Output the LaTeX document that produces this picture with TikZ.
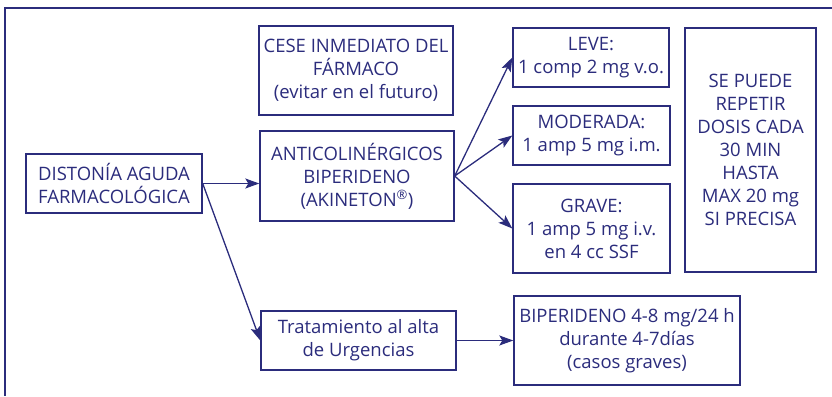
\documentclass[tikz,border=0pt]{standalone}
\usepackage{fontspec}
\setmainfont{Open Sans}
\usepackage{tikz}
\usetikzlibrary{arrows.meta}
\definecolor{navyink}{HTML}{2B2C7C}
\tikzset{box/.style={draw=navyink,line width=1.4pt,text=navyink,align=center,inner sep=0pt,
font=\fontsize{18.5}{23}\selectfont},
arr/.style={-{Stealth[length=14pt,width=10pt,inset=3pt]},navyink,line width=1.3pt}}

\begin{document}
\begin{tikzpicture}[x=1pt,y=-1pt]
\useasboundingbox (0,0) rectangle (832,396);
\draw[navyink,line width=2.5pt] (832,8)--(5,8)--(5,396);
\node[box,minimum width=176pt,minimum height=59pt] (dist) at (114,183.5) {DISTONÍA AGUDA\\FARMACOLÓGICA};
\node[box,minimum width=194pt,minimum height=89pt] (cese) at (356,70.5) {CESE INMEDIATO DEL\\FÁRMACO\\(evitar en el futuro)};
\node[box,minimum width=194pt,minimum height=90pt] (anti) at (357,176) {ANTICOLINÉRGICOS\\BIPERIDENO\\(AKINETON\textsuperscript{\textregistered})};
\node[box,minimum width=156pt,minimum height=59pt] (leve) at (591,57.5) {LEVE:\\1 comp 2 mg v.o.};
\node[box,minimum width=157pt,minimum height=59pt] (mod) at (591.5,135.5) {MODERADA:\\1 amp 5 mg i.m.};
\node[box,minimum width=157pt,minimum height=89pt] (grave) at (591.5,228.5) {GRAVE:\\1 amp 5 mg i.v.\\en 4 cc SSF};
\node[box,minimum width=131pt,minimum height=244pt] (repe) at (750.5,150) {SE PUEDE\\REPETIR\\DOSIS CADA\\30 MIN\\HASTA\\MAX 20 mg\\SI PRECISA};
\node[box,minimum width=195pt,minimum height=59pt] (trat) at (358.5,340.5) {Tratamiento al alta\\de Urgencias};
\node[box,minimum width=226pt,minimum height=89pt] (bip) at (627,340.5) {BIPERIDENO 4-8 mg/24 h\\durante 4-7días\\(casos graves)};
\draw[arr] (dist.east)--(dist.east-|anti.west);
\draw[arr] (dist.east)--(trat.west);
\foreach \t in {leve,mod,grave} \draw[arr] (anti.east)--(\t.west);
\draw[arr] (trat.east)--(bip.west);
\end{tikzpicture}
\end{document}
